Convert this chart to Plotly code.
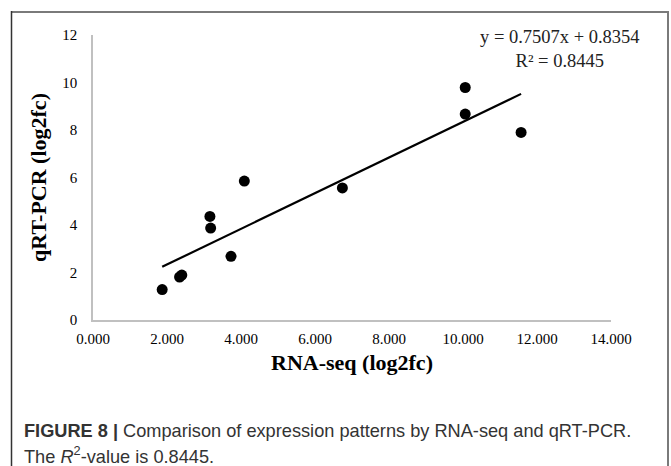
import plotly.graph_objects as go

# Data
rna_seq = [1.87, 2.34, 2.40, 3.16, 3.18, 3.73, 4.09, 6.74, 10.06, 10.06, 11.57]
qrt_pcr = [1.28, 1.81, 1.89, 4.36, 3.87, 2.68, 5.85, 5.56, 9.79, 8.67, 7.90]
slope = 0.7507
intercept = 0.8354
r2 = 0.8445
x_ticks = [0, 2, 4, 6, 8, 10, 12, 14]
y_ticks = [0, 2, 4, 6, 8, 10, 12]

W, H = 671, 466
L, R, T, B = 93, 60, 35, 146

trend_x = [min(rna_seq), max(rna_seq)]
trend_y = [slope * v + intercept for v in trend_x]

fig = go.Figure()
fig.add_trace(go.Scatter(x=trend_x, y=trend_y, mode="lines",
                         line=dict(color="black", width=2.2), showlegend=False))
fig.add_trace(go.Scatter(x=rna_seq, y=qrt_pcr, mode="markers",
                         marker=dict(color="black", size=11), showlegend=False))

serif = "Liberation Serif, Times New Roman, serif"
axcol = "#c0c0c0"

fig.update_layout(
    width=W, height=H,
    margin=dict(l=L, r=R, t=T, b=B),
    paper_bgcolor="white", plot_bgcolor="white",
    font=dict(family=serif, color="black"),
    xaxis=dict(range=[0, 14], tickvals=x_ticks,
               ticktext=[f"{v:.3f}" for v in x_ticks],
               showgrid=False, zeroline=False, showline=True,
               linecolor=axcol, linewidth=1.5, ticks="",
               ticklabelstandoff=4,
               tickfont=dict(family=serif, size=15, color="black"),
               title=dict(text="<b>RNA-seq (log2fc)</b>", standoff=9,
                          font=dict(family=serif, size=22, color="black"))),
    yaxis=dict(range=[0, 12], tickvals=y_ticks,
               ticktext=[str(v) for v in y_ticks],
               showgrid=False, zeroline=False, showline=True,
               linecolor=axcol, linewidth=1.5, ticks="",
               ticklabelstandoff=11,
               tickfont=dict(family=serif, size=15, color="black"),
               title=dict(text="<b>qRT-PCR (log2fc)</b>", standoff=10,
                          font=dict(family=serif, size=22, color="black"))),
)

fig.add_annotation(x=12.61, y=11.4, xref="x", yref="y",
                   text=f"y = {slope}x + {intercept}<br>R² = {r2}",
                   showarrow=False, align="center",
                   font=dict(family=serif, size=18.5, color="#222"))

# paper-coordinate helpers
pw = W - L - R
ph = H - T - B
def px(xpix):
    return (xpix - L) / pw
def py(ypix):
    return (H - B - ypix) / ph

# figure frame (top, left, right)
fig.add_shape(type="line", xref="paper", yref="paper",
              x0=px(11), x1=px(668), y0=py(12), y1=py(12),
              line=dict(color="#7a7a7a", width=2))
fig.add_shape(type="line", xref="paper", yref="paper",
              x0=px(11.5), x1=px(11.5), y0=py(11), y1=py(470),
              line=dict(color="#333333", width=1.5))
fig.add_shape(type="line", xref="paper", yref="paper",
              x0=px(668), x1=px(668), y0=py(11), y1=py(470),
              line=dict(color="#7a7a7a", width=2))

sans = "Liberation Sans, Arial, sans-serif"
fig.add_annotation(x=px(22), y=py(431), xref="paper", yref="paper",
                   xanchor="left", yanchor="middle", showarrow=False,
                   text="<b>FIGURE 8 |</b> Comparison of expression patterns by RNA-seq and qRT-PCR.",
                   font=dict(family=sans, size=18.2, color="#333333"))
fig.add_annotation(x=px(22), y=py(455), xref="paper", yref="paper",
                   xanchor="left", yanchor="middle", showarrow=False,
                   text="The <i>R</i><sup>2</sup>-value is 0.8445.",
                   font=dict(family=sans, size=18.2, color="#333333"))

fig.write_html("out.html", config={"displayModeBar": False},
               post_script="document.body.style.margin='0';document.body.style.overflow='hidden';")
